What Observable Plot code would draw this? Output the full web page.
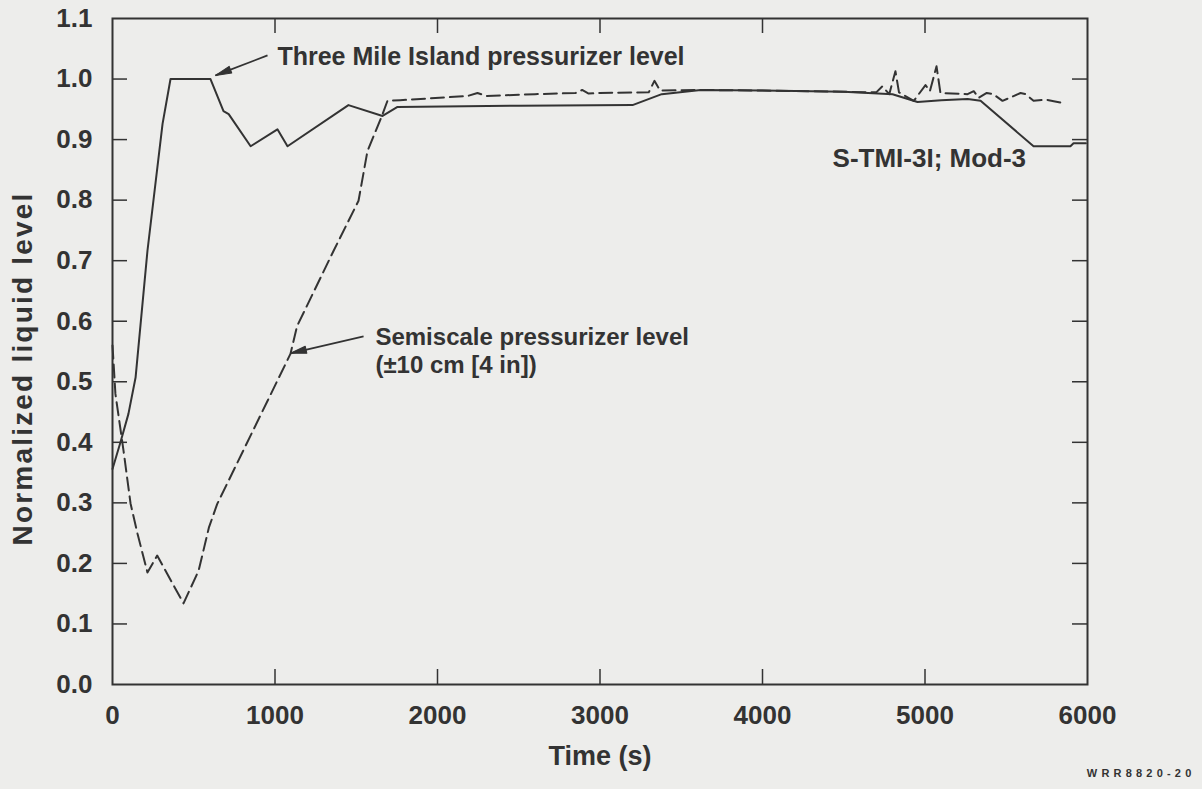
<!DOCTYPE html>
<html>
<head>
<meta charset="utf-8">
<script src="https://cdn.jsdelivr.net/npm/d3@7"></script>
<script src="https://cdn.jsdelivr.net/npm/@observablehq/plot@0.6"></script>
<style>
  html, body { margin: 0; padding: 0; background: #ededeb; }
  #chart { width: 1202px; height: 789px; }
</style>
</head>
<body>
<div id="chart"></div>
<script>
// ---- data ----
const tmiTime  = [0, 49, 98, 142, 215, 308, 357, 603, 683, 715, 850, 1015, 1077, 1452, 1662, 1754, 2500, 3200, 3380, 3620, 4000, 4500, 4800, 4954, 5100, 5262, 5342, 5668, 5895, 5914, 5990];
const tmiLevel = [0.356, 0.40, 0.447, 0.507, 0.716, 0.926, 1.0, 1.0, 0.947, 0.942, 0.889, 0.917, 0.889, 0.957, 0.939, 0.954, 0.956, 0.957, 0.975, 0.982, 0.981, 0.979, 0.975, 0.962, 0.965, 0.967, 0.964, 0.889, 0.889, 0.894, 0.894];

const semiTime  = [0, 18, 68, 111, 154, 215, 275, 437, 530, 593, 644, 1095, 1136, 1360, 1514, 1569, 1662, 1692, 1770, 2185, 2246, 2300, 2600, 2850, 2890, 2930, 3000, 3300, 3335, 3370, 3600, 4000, 4500, 4700, 4738, 4780, 4818, 4840, 4931, 5003, 5030, 5071, 5095, 5262, 5300, 5330, 5380, 5420, 5477, 5530, 5588, 5620, 5668, 5742, 5800, 5852];
const semiLevel = [0.56, 0.48, 0.386, 0.299, 0.249, 0.185, 0.213, 0.134, 0.188, 0.259, 0.298, 0.546, 0.592, 0.716, 0.799, 0.881, 0.942, 0.964, 0.965, 0.972, 0.977, 0.972, 0.975, 0.977, 0.982, 0.976, 0.977, 0.978, 0.997, 0.981, 0.982, 0.981, 0.979, 0.978, 0.988, 0.975, 1.013, 0.978, 0.964, 0.99, 0.98, 1.021, 0.977, 0.975, 0.98, 0.969, 0.977, 0.975, 0.964, 0.97, 0.977, 0.975, 0.964, 0.966, 0.963, 0.96];

const xTicks = [0, 1000, 2000, 3000, 4000, 5000, 6000];
const yTicks = [0.0, 0.1, 0.2, 0.3, 0.4, 0.5, 0.6, 0.7, 0.8, 0.9, 1.0, 1.1];
const xInnerTicks = [1000, 2000, 3000, 4000, 5000];
const yInnerTicks = [0.1, 0.2, 0.3, 0.4, 0.5, 0.6, 0.7, 0.8, 0.9, 1.0];

const annoText = ["Three Mile Island pressurizer level", "Semiscale pressurizer level\n(\u00b110 cm [4 in])"];
const annoX    = [1015, 1618];
const annoY    = [1.039, 0.552];
const annoSize = [25, 24];

const arrowX1 = [954, 1545];
const arrowY1 = [1.039, 0.575];
const arrowX2 = [634, 1095];
const arrowY2 = [1.006, 0.547];
const arrowAngle = [249, 257];

const runLabel = ["S-TMI-3I; Mod-3"];
const runX = [4431];
const runY = [0.869];

const xLabel = "Time (s)";
const yLabel = "Normalized liquid level";
const figId = "WRR8820-20";

// ---- build ----
const tmi = tmiTime.map((t, i) => ({t, v: tmiLevel[i]}));
const semi = semiTime.map((t, i) => ({t, v: semiLevel[i]}));
const annos = annoText.map((s, i) => ({s, x: annoX[i], y: annoY[i], fs: annoSize[i]}));
const arrows = arrowX1.map((x, i) => ({x1: x, y1: arrowY1[i], x2: arrowX2[i], y2: arrowY2[i], a: arrowAngle[i]}));
const runs = runLabel.map((s, i) => ({s, x: runX[i], y: runY[i]}));

const W = 1202, H = 789;
const mL = 112, mR = 115, mT = 18, mB = 105;
const pW = W - mL - mR, pH = H - mT - mB;
const ink = "#333";
const tickLen = 15;

const headShape = {
  draw(context, l) {
    context.moveTo(0, -l);
    context.lineTo(3.6, 0);
    context.lineTo(-3.6, 0);
    context.closePath();
  }
};

const chart = Plot.plot({
  width: W, height: H,
  marginLeft: mL, marginRight: mR, marginTop: mT, marginBottom: mB,
  style: {background: "#ededeb", fontFamily: "'Liberation Sans', Arial, sans-serif", fontWeight: "bold", color: ink},
  x: {domain: [0, 6000], axis: null},
  y: {domain: [0, 1.1], axis: null},
  marks: [
    Plot.tickX(xInnerTicks, {x: d => d, stroke: ink, strokeWidth: 1.5, insetTop: pH - tickLen}),
    Plot.tickX(xInnerTicks, {x: d => d, stroke: ink, strokeWidth: 1.5, insetBottom: pH - tickLen}),
    Plot.tickY(yInnerTicks, {y: d => d, stroke: ink, strokeWidth: 1.5, insetRight: pW - tickLen}),
    Plot.tickY(yInnerTicks, {y: d => d, stroke: ink, strokeWidth: 1.5, insetLeft: pW - tickLen}),
    Plot.frame({stroke: ink, strokeWidth: 2}),
    Plot.text(xTicks, {x: d => d, frameAnchor: "bottom", dy: 31, text: d => String(d), fontSize: 26, fill: ink, lineAnchor: "middle"}),
    Plot.text(yTicks, {y: d => d, frameAnchor: "left", dx: -20, textAnchor: "end", text: d => d.toFixed(1), fontSize: 26, fill: ink, lineAnchor: "middle"}),
    Plot.text([xLabel], {frameAnchor: "bottom", dy: 72, text: d => d, fontSize: 27, fill: ink, lineAnchor: "middle"}),
    Plot.text([yLabel], {frameAnchor: "left", dx: -89, dy: 17, rotate: -90, textAnchor: "middle", text: d => d, fontSize: 28, fill: ink, lineAnchor: "middle"}),
    Plot.line(semi, {x: "t", y: "v", stroke: ink, strokeWidth: 2, strokeDasharray: "13,6"}),
    Plot.line(tmi, {x: "t", y: "v", stroke: ink, strokeWidth: 2}),
    Plot.link(arrows, {x1: "x1", y1: "y1", x2: "x2", y2: "y2", stroke: ink, strokeWidth: 1.8}),
    Plot.vector(arrows, {x: "x2", y: "y2", rotate: "a", length: 16, anchor: "end", shape: headShape, stroke: ink, fill: ink, strokeWidth: 1}),
    Plot.text(annos, {x: "x", y: "y", text: "s", textAnchor: "start", lineAnchor: "middle", lineHeight: 1.14, fontSize: "fs", fill: ink}),
    Plot.text(runs, {x: "x", y: "y", text: "s", textAnchor: "start", lineAnchor: "middle", fontSize: 26, fill: ink}),
    Plot.text([figId], {frameAnchor: "bottom-right", dx: 108, dy: 89, text: d => d, textAnchor: "end", lineAnchor: "middle", fontSize: 11, fontWeight: 900, fill: ink})
  ]
});
// letter spacing for the wide-set labels
d3.select(chart).selectAll("text").each(function() {
  const t = this.textContent;
  if (t === yLabel) this.setAttribute("letter-spacing", "2.2");
  if (t === figId) this.setAttribute("letter-spacing", "4.2");
});
document.getElementById("chart").appendChild(chart);
</script>
</body>
</html>
